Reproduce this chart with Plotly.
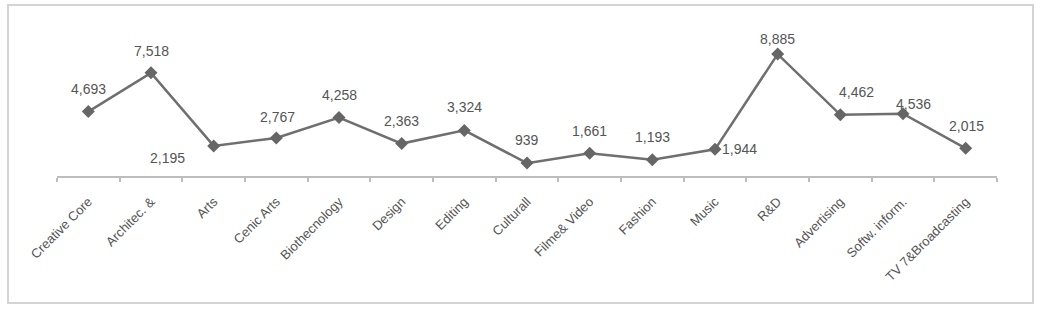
import plotly.graph_objects as go

categories = ["Creative Core", "Architec. &", "Arts", "Cenic Arts", "Biothecnology",
              "Design", "Editing", "Culturall", "Filme& Video", "Fashion", "Music",
              "R&D", "Advertising", "Softw. inform.", "TV 7&Broadcasting"]
values = [4693, 7518, 2195, 2767, 4258, 2363, 3324, 939, 1661, 1193, 1944,
          8885, 4462, 4536, 2015]

# label offsets (pixels) for each data label
label_dx = [0, 0, -46, 1, 0, 0, 0, 0, 0, 0, 24, 0, 16, 10, 1]
label_dy = [23, 22, -12, 21, 23, 23, 23, 23, 22, 23, 0, 15, 23, 10, 22]

FONT = "Liberation Sans, Arial, Helvetica, sans-serif"

fig = go.Figure()
fig.add_trace(go.Scatter(
    x=categories, y=values, mode="lines+markers",
    line=dict(color="#6f6f6f", width=2.5),
    marker=dict(symbol="diamond", size=10, color="#666666"),
    hoverinfo="x+y", showlegend=False,
))

for c, v, dx, dy in zip(categories, values, label_dx, label_dy):
    fig.add_annotation(x=c, y=v, text=f"{v:,}", showarrow=False,
                       xshift=dx, yshift=dy,
                       font=dict(family=FONT, size=14, color="#555555"))

fig.add_shape(type="rect", xref="paper", yref="paper",
              x0=(8 - 57) / 940, x1=(1033 - 57) / 940,
              y0=(176 - 303) / 156, y1=(176 - 5) / 156,
              line=dict(color="#d4d4d4", width=2), fillcolor="rgba(0,0,0,0)",
              layer="below")

fig.update_layout(
    width=1046, height=309,
    margin=dict(l=57, r=49, t=20, b=133),
    paper_bgcolor="white", plot_bgcolor="white",
    font=dict(family=FONT, color="#555555"),
    xaxis=dict(
        type="category", tickangle=-45, showline=True, linecolor="#bdbdbd",
        linewidth=2, ticks="outside", tickson="boundaries", ticklen=4,
        tickcolor="#bdbdbd", tickwidth=1.5, showgrid=False, zeroline=False,
        ticklabelstandoff=11,
        tickfont=dict(family=FONT, size=13, color="#555555"),
        range=[-0.5, len(categories) - 0.5],
    ),
    yaxis=dict(visible=False, range=[0, 11370], showgrid=False, zeroline=False),
)

fig.write_html("out.html")
